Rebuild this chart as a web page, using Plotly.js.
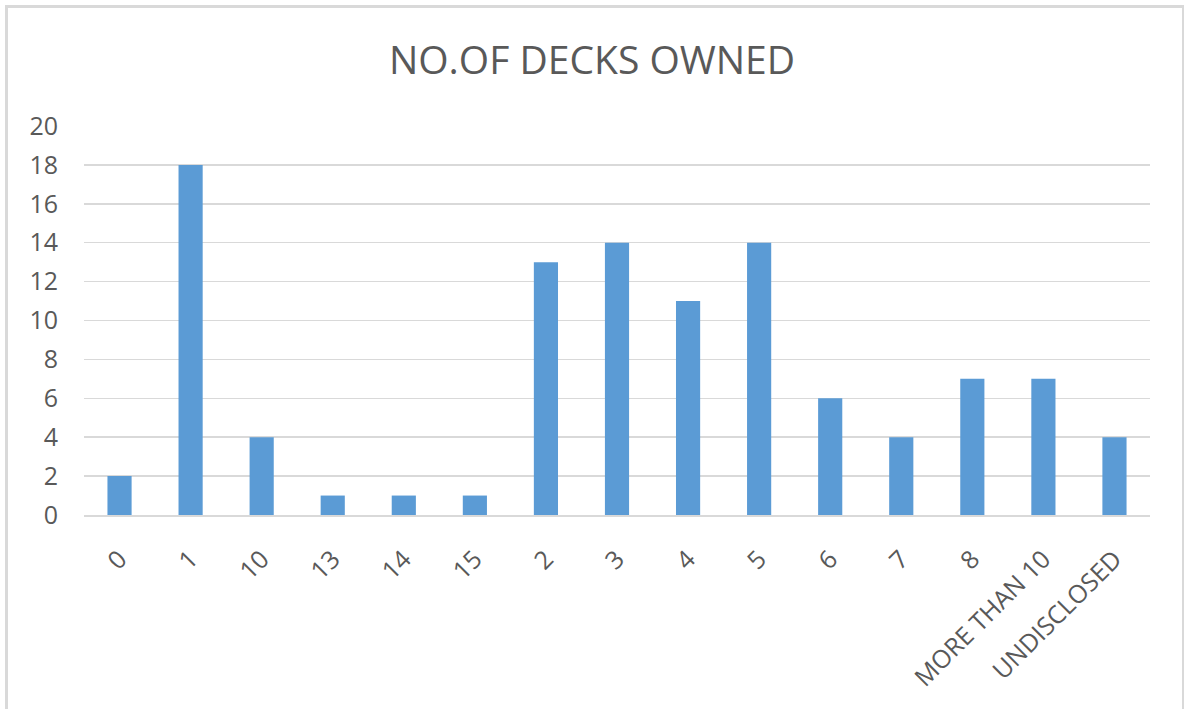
<!DOCTYPE html>
<html>
<head>
<meta charset="utf-8">
<script src="https://cdn.plot.ly/plotly-3.0.1.min.js"></script>
<style>
html,body{margin:0;padding:0;background:#fff;}
#wrap{position:relative;width:1184px;height:709px;overflow:hidden;}
#chart{position:absolute;left:0;top:0;width:1184px;height:709px;}
#frame{position:absolute;left:5px;top:5px;width:1174px;height:720px;border:3px solid #d9d9d9;pointer-events:none;}
</style>
</head>
<body>
<div id="wrap"><div id="chart"></div><div id="frame"></div></div>
<script>
const categories = ["0","1","10","13","14","15","2","3","4","5","6","7","8","MORE THAN 10","UNDISCLOSED"];
const counts = [2,18,4,1,1,1,13,14,11,14,6,4,7,7,4];
const yTicks = [0,2,4,6,8,10,12,14,16,18,20];

const trace = {
  type: "bar",
  x: categories,
  y: counts,
  marker: {color: "#5b9bd5"},
  hoverinfo: "x+y"
};

const layout = {
  width: 1184,
  height: 709,
  margin: {l: 84, r: 34, t: 126, b: 194},
  paper_bgcolor: "rgba(0,0,0,0)",
  plot_bgcolor: "#fff",
  bargap: 0.66,
  showlegend: false,
  title: {
    text: "NO.OF DECKS OWNED",
    font: {family: "Open Sans", size: 39, color: "#595959"},
    x: 0.5, xanchor: "center",
    y: 1 - 60/709, yanchor: "middle"
  },
  xaxis: {
    type: "category",
    tickangle: -45,
    tickfont: {family: "Open Sans", size: 25, color: "#595959"},
    showgrid: false,
    showline: true,
    linecolor: "#d9d9d9",
    linewidth: 1.5,
    ticks: "outside",
    ticklen: 18,
    tickcolor: "rgba(0,0,0,0)",
    automargin: false
  },
  yaxis: {
    range: [0, 20],
    tickvals: yTicks,
    ticktext: yTicks.map(String),
    tickfont: {family: "Open Sans", size: 25, color: "#595959"},
    showgrid: true,
    gridcolor: "#d9d9d9",
    gridwidth: 1.5,
    zeroline: false,
    showline: false,
    ticks: "outside",
    ticklen: 20,
    tickcolor: "rgba(0,0,0,0)",
    automargin: false
  }
};

Plotly.newPlot("chart", [trace], layout, {displayModeBar: false, staticPlot: true});
</script>
</body>
</html>
